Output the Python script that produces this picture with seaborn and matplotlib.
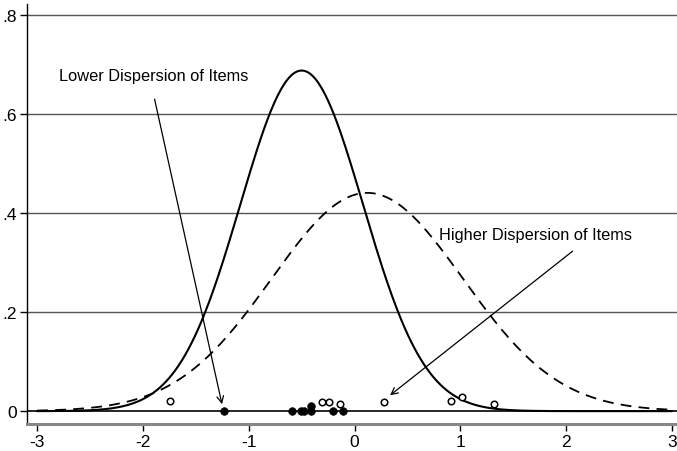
import numpy as np
import pandas as pd
import matplotlib
matplotlib.use("Agg")
import matplotlib.pyplot as plt
import seaborn as sns

# Normal curves (mean, sd)
low_mean, low_sd = -0.50, 0.58
high_mean, high_sd = 0.12, 0.905

# Item locations (lower dispersion: filled) and (higher dispersion: open)
low_x = [-1.23, -0.59, -0.51, -0.48, -0.41, -0.41, -0.20, -0.11]
low_y = [0.0, 0.0, 0.0, 0.0, 0.0, 0.010, 0.0, 0.0]
high_x = [-1.74, -0.31, -0.245, -0.135, 0.274, 0.907, 1.014, 1.314]
high_y = [0.020, 0.018, 0.018, 0.014, 0.019, 0.020, 0.028, 0.014]

xticks = [-3, -2, -1, 0, 1, 2, 3]
yticks = [0, 0.2, 0.4, 0.6, 0.8]
ytick_labels = ["0", ".2", ".4", ".6", ".8"]

sns.set_theme(style="white")
plt.rcParams['font.family'] = ['Liberation Sans', 'DejaVu Sans']

grid = np.linspace(-3, 3, 400)
def npdf(x, m, s):
    return np.exp(-0.5 * ((x - m) / s) ** 2) / (s * np.sqrt(2 * np.pi))

curves = pd.DataFrame({
    "x": np.concatenate([grid, grid]),
    "y": np.concatenate([npdf(grid, low_mean, low_sd), npdf(grid, high_mean, high_sd)]),
    "set": ["low"] * len(grid) + ["high"] * len(grid),
})

fig = plt.figure(figsize=(6.77, 4.52), dpi=100)
ax = fig.add_axes([0.040, 0.0597, 0.960, 0.929])

for yv in [0.2, 0.4, 0.6, 0.8]:
    ax.axhline(yv, color="#555555", lw=1.0, zorder=0)
ax.axhline(0, color="black", lw=1.2, zorder=1)

sns.lineplot(data=curves[curves.set == "low"], x="x", y="y", ax=ax,
             color="black", lw=1.5, zorder=3)
sns.lineplot(data=curves[curves.set == "high"], x="x", y="y", ax=ax,
             color="black", lw=1.3, zorder=3)
ax.lines[-1].set_dashes([6, 4])

sns.scatterplot(x=low_x, y=low_y, ax=ax, color="black", s=30, edgecolor="black",
                linewidth=0.5, zorder=4)
sns.scatterplot(x=high_x, y=high_y, ax=ax, facecolor="white", s=22,
                edgecolor="black", linewidth=1.1, zorder=4)

arrow = dict(arrowstyle="->", color="black", lw=0.9, shrinkA=0, shrinkB=0,
             mutation_scale=12)
ax.text(-2.79, 0.677, "Lower Dispersion of Items", fontsize=11.8,
        ha="left", va="center", color="black")
ax.annotate("", xy=(-1.253, 0.014), xytext=(-1.89, 0.630), arrowprops=arrow)
ax.text(0.80, 0.356, "Higher Dispersion of Items", fontsize=11.8,
        ha="left", va="center", color="black")
ax.annotate("", xy=(0.335, 0.032), xytext=(2.06, 0.323), arrowprops=arrow)

ax.set_xlim(-3.095, 3.047)
ax.set_ylim(-0.026, 0.822)
ax.set_xticks(xticks)
ax.set_xticklabels([str(t) for t in xticks])
ax.set_yticks(yticks)
ax.set_yticklabels(ytick_labels)
ax.set_xlabel("")
ax.set_ylabel("")

for s in ["top", "right"]:
    ax.spines[s].set_visible(False)
ax.spines["left"].set_color("black")
ax.spines["left"].set_linewidth(1.0)
ax.spines["bottom"].set_color("#888888")
ax.spines["bottom"].set_linewidth(2.2)
ax.tick_params(axis="both", which="both", direction="out", length=5, width=1,
               color="black", labelsize=12.5, labelcolor="black", pad=2,
               bottom=True, left=True)
ax.legend_ = None

fig.savefig("out.png", dpi=100)
